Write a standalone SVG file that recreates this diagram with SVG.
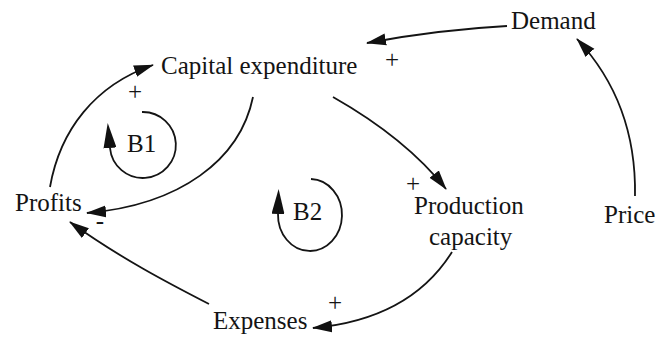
<svg xmlns="http://www.w3.org/2000/svg" width="663" height="343" viewBox="0 0 663 343">
<style>
.lbl{font-family:"Liberation Serif","Times New Roman",serif;font-size:25px;fill:#141414}
.sgn{font-family:"Liberation Serif","Times New Roman",serif;font-size:25px;fill:#141414;text-anchor:middle}
.c{fill:none;stroke:#141414;stroke-width:1.8}
</style>
<defs>
<marker id="ah" markerUnits="userSpaceOnUse" markerWidth="20" markerHeight="13" refX="19" refY="6.5" orient="auto" viewBox="0 0 20 13">
<path d="M0,0.5 L20,6.5 L0,12.5 z" fill="#111"/>
</marker>
<marker id="lp" markerUnits="userSpaceOnUse" markerWidth="25" markerHeight="13" refX="0" refY="6.5" orient="auto" viewBox="0 0 25 13">
<path d="M0,0 L25,6.5 L0,13 z" fill="#111"/>
</marker>
</defs>
<rect width="663" height="343" fill="#fff"/>
<g id="connectors">
<path class="c" marker-end="url(#ah)" d="M507,26 C470,28 420,33 367,43"/>
<path class="c" marker-end="url(#ah)" d="M635,196 C636,140 620,85 577,39"/>
<path class="c" marker-end="url(#ah)" d="M50,187 C60,130 95,85 153,65"/>
<path class="c" marker-end="url(#ah)" d="M253,97 C240,160 180,205 87,213"/>
<path class="c" marker-end="url(#ah)" d="M333,97 C370,118 415,150 446,189"/>
<path class="c" marker-end="url(#ah)" d="M452,252 C425,295 380,322 313,328"/>
<path class="c" marker-end="url(#ah)" d="M209,304 C170,284 120,258 70,222"/>
<text class="sgn" x="392" y="68">+</text>
<text class="sgn" x="135" y="100">+</text>
<text class="sgn" x="413" y="192">+</text>
<text class="sgn" x="335" y="311">+</text>
<text class="sgn" x="100" y="229">-</text>
</g>
<g id="loop-B1">
<path class="c" marker-end="url(#lp)" d="M142,112 A33,33 0 1 1 110,148"/>
<text class="lbl" x="127" y="152">B1</text>
</g>
<g id="loop-B2">
<path class="c" marker-end="url(#lp)" d="M311,179 A32,36 0 1 1 278,214"/>
<text class="lbl" x="293" y="220">B2</text>
</g>
<g id="node-capital-expenditure"><text class="lbl" x="161" y="74">Capital expenditure</text></g>
<g id="node-demand"><text class="lbl" x="511" y="29">Demand</text></g>
<g id="node-profits"><text class="lbl" x="15" y="211">Profits</text></g>
<g id="node-production-capacity"><text class="lbl" x="414" y="214">Production</text><text class="lbl" x="429" y="245">capacity</text></g>
<g id="node-price"><text class="lbl" x="604" y="223">Price</text></g>
<g id="node-expenses"><text class="lbl" x="213" y="329">Expenses</text></g>
</svg>
